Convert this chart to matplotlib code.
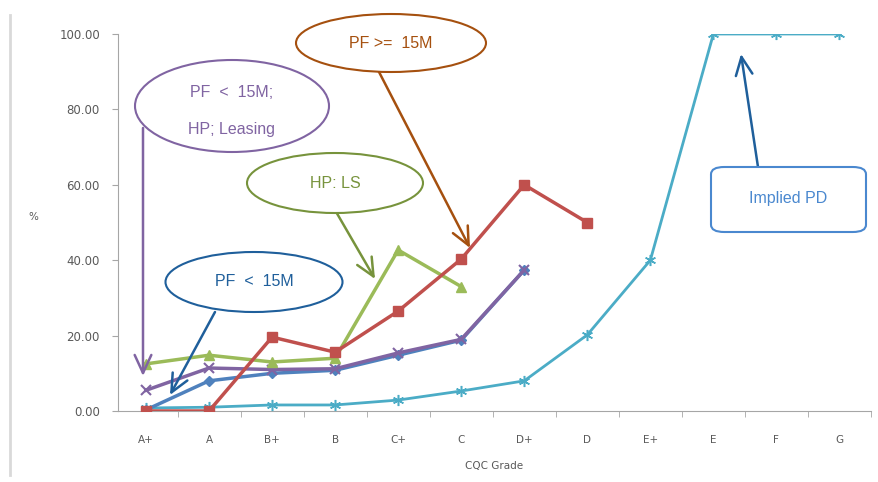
import matplotlib
matplotlib.use("Agg")
import matplotlib.pyplot as plt
from matplotlib.patches import Ellipse, FancyBboxPatch
from matplotlib.lines import Line2D

grades = ["A+", "A", "B+", "B", "C+", "C", "D+", "D", "E+", "E", "F", "G"]
implied_pd = [0.8, 1.0, 1.6, 1.6, 2.9, 5.3, 8.0, 20.2, 40.0, 100.0, 100.0, 100.0]
pf_ge_15m = [0.0, 0.0, 19.6, 15.6, 26.5, 40.3, 60.0, 50.0]
hp_ls = [12.5, 14.8, 13.0, 14.0, 42.7, 33.0]
pf_hp_leasing = [5.5, 11.4, 11.0, 11.2, 15.4, 19.0, 37.4]
pf_lt_15m = [0.3, 8.0, 10.0, 10.8, 14.8, 18.8, 37.4]

W, H = 879, 482
fig = plt.figure(figsize=(W / 100, H / 100), dpi=100)
ax = fig.add_axes([118 / W, (H - 411) / H, 753 / W, 377 / H])

def fx(x, y):
    return (x / W, 1 - y / H)

x = list(range(len(grades)))
ax.plot(x, implied_pd, color="#4BACC6", lw=2.0, marker=(6, 2, 0), ms=8, mew=1.1, zorder=3)
ax.plot(x[:len(pf_lt_15m)], pf_lt_15m, color="#4F81BD", lw=2.5, marker="D", ms=5, zorder=4)
ax.plot(x[:len(pf_hp_leasing)], pf_hp_leasing, color="#8064A2", lw=2.5, marker="x", ms=7, mew=1.5, zorder=4)
ax.plot(x[:len(hp_ls)], hp_ls, color="#9BBB59", lw=2.5, marker="^", ms=7, zorder=5)
ax.plot(x[:len(pf_ge_15m)], pf_ge_15m, color="#C0504D", lw=2.5, marker="s", ms=7, zorder=6)

ax.set_xlim(-0.444, len(grades) - 0.5)
ax.set_ylim(0, 100)
ax.set_xticks(x)
ax.set_xticklabels(grades)
ax.set_xticks([i + 0.5 for i in range(0, len(grades))], minor=True)
ax.tick_params(axis="x", which="major", length=0, pad=17, labelsize=7.5, labelcolor="#595959")
ax.tick_params(axis="x", which="minor", length=4, color="#a6a6a6")
ax.set_yticks([0, 20, 40, 60, 80, 100])
ax.set_yticklabels([f"{v:.2f}" for v in [0, 20, 40, 60, 80, 100]])
ax.tick_params(axis="y", length=4, color="#a6a6a6", labelsize=8.5, labelcolor="#595959", pad=9)
for s in ["top", "right"]:
    ax.spines[s].set_visible(False)
for s in ["left", "bottom"]:
    ax.spines[s].set_color("#a6a6a6")
ax.set_xlabel("CQC Grade", fontsize=7.5, color="#595959", labelpad=12)
fig.text(33 / W, 1 - 217 / H, "%", fontsize=7.5, color="#595959", ha="center", va="center")

# left border line
fig.add_artist(Line2D([10 / W, 10 / W], [1 - 15 / H, 1 - 475 / H], color="#d9d9d9", lw=2))

def bubble(cx, cy, w, h, text, ec, tc, ls=1.2, ty=None):
    fig.add_artist(Ellipse(fx(cx, cy), w / W, h / H, transform=fig.transFigure,
                           fc="white", ec=ec, lw=1.5, zorder=10))
    ty = cy if ty is None else ty
    fig.text(cx / W, 1 - ty / H, text, ha="center", va="center", color=tc,
             fontsize=11.5, family="Liberation Sans", zorder=11, linespacing=ls)

def arrow(x0, y0, x1, y1, c):
    ax.annotate("", xy=fx(x1, y1), xytext=fx(x0, y0), xycoords="figure fraction",
                textcoords="figure fraction",
                arrowprops=dict(arrowstyle="->,head_length=1.3,head_width=0.6", color=c, lw=1.8,
                                shrinkA=0, shrinkB=0), zorder=9)

arrow(378, 70, 470, 248, "#A5500F")
bubble(391, 43, 190, 58, "PF >=  15M", "#A5500F", "#A5500F")

arrow(143, 128, 143, 376, "#8064A2")
bubble(232, 106, 194, 92, "PF  <  15M;\nHP; Leasing", "#8064A2", "#8064A2", ls=2.8, ty=111)

arrow(335, 210, 375, 279, "#77933C")
bubble(335, 183, 176, 60, "HP: LS", "#77933C", "#77933C")

arrow(215, 312, 170, 395, "#1F5F9B")
bubble(254, 282, 177, 60, "PF  <  15M", "#1F5F9B", "#1F5F9B")

arrow(758, 167, 741, 54, "#1F5F9B")
fig.add_artist(FancyBboxPatch((711 / W, 1 - 232 / H), 155 / W, 65 / H,
                              boxstyle="round,pad=0,rounding_size=0.015",
                              transform=fig.transFigure, fc="white", ec="#4A88CF", lw=1.5, zorder=10))
fig.text(788 / W, 1 - 198 / H, "Implied PD", ha="center", va="center", color="#4A88CF",
         fontsize=11.5, family="Liberation Sans", zorder=11)

fig.savefig("out.png", dpi=100)
